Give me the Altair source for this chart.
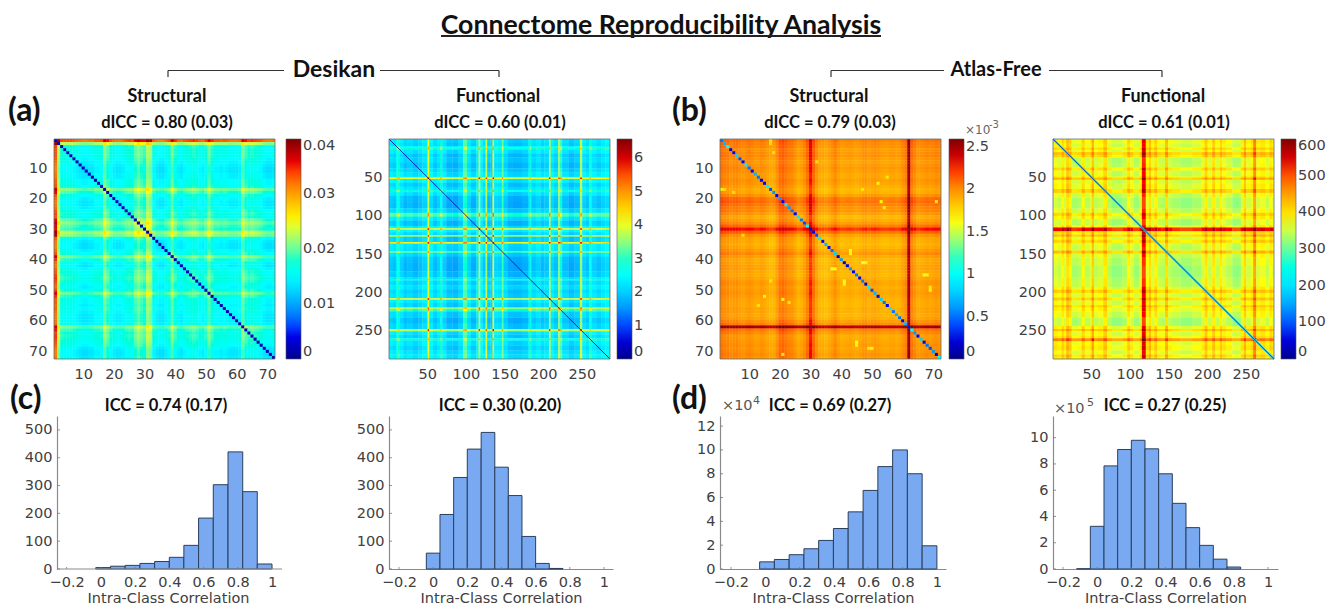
import altair as alt
import pandas as pd

# ---------- values ----------
a_prof = [25,14,9,8.5,8.5,8.5,8,7.5,7,6.5,6.5,7,7,8,8,8.5,12.5,10.5,8.5,7.5,7,7,7.5,8.5,9,8.5,11,12.5,11,10,14,13,8,7,6.5,6.5,7.5,8.5,12,9.5,7.5,7,8,8.5,9,9.5,9,8,7.5,9,11.5,9.5,8,8,7.5,8,7.5,7,7,7,7.5,12,10,9,9.5,9,8.5,8,7,6.5,6.5,7]
a_diag = 2.0

b_prof = [1.08,1.05,1.04,1.0,1.02,1.03,1.0,.98,1.0,1.02,1.0,.97,.97,1.0,.98,.95,.92,.93,1.0,1.1,1.12,1.08,1.04,1.03,.98,.92,.95,1.0,1.1,1.28,1.12,1.0,.93,.92,.9,.93,.97,1.02,.96,.92,.93,.94,.95,.93,.92,.94,.97,.98,.95,.97,.98,.96,.94,.93,.93,.95,.95,.93,.95,1.0,1.05,1.5,1.08,1.02,.96,.97,.98,1.0,.98,1.0,1.02,1.0]
b_diag = [0.5,0.7,1.0,0.2,0.3,0.8,0.4,0.3,0.9,0.5,0.3,0.7,0.5,0.3,0.3,0.9,0.4,0.6,0.3,0.6,0.3,0.9,0.6,0.5,0.3,0.9,0.5,0.4,1.0,0.2,0.3,0.4,0.9,0.3,0.7,0.3,0.5,0.8,0.2,0.6,0.2,0.2,0.6,0.3,0.5,0.3,0.5,0.2,0.9,0.4,0.7,0.3,0.8,0.5,0.3,0.9,0.5,0.7,0.5,0.3,0.7,0.3,1.0,0.6,0.3,0.8,0.3,0.5,0.4,0.6,0.3,1.0]
b_spot_i = [17,1,5,15,23,32,37,43,47,41,67,69,50,21,45,21,13,17]
b_spot_j = [2,17,18,52,54,8,43,38,41,48,45,49,69,71,68,53,55,47]
b_spot_v = [1.75,1.7,1.75,1.65,1.7,1.75,1.6,1.65,1.55,1.65,1.6,1.7,1.65,1.7,1.65,1.65,1.7,1.7]

f1_end = [5,9,11,14,19,24,31,38,43,49,50,52,57,62,66,69,74,82,90,96,101,106,113,116,118,121,125,127,131,134,136,140,146,148,153,160,172,180,182,184,190,196,201,207,209,213,219,221,224,232,240,247,250,254,259,262,268,275,280,286]
f1_val = [1.15,1.05,1.45,1.8,1.2,.95,1.05,.9,1.05,1.2,1.4,3.0,1.3,1.0,1.2,1.75,1.15,.85,.8,1.05,2.1,1.2,.9,1.3,3.0,1.4,1.1,2.7,.95,1.0,3.2,1.2,1.15,2.2,1.1,.85,.8,.9,1.2,1.75,1.05,1.2,1.0,1.1,3.0,1.25,1.05,2.6,2.0,1.05,.85,1.0,2.7,1.2,1.05,1.75,1.2,1.05,1.2,1.3]

f2_end = [6,11,14,17,21,24,31,37,41,48,50,53,58,65,70,76,90,96,100,104,112,115,120,124,127,131,135,140,145,149,154,165,180,192,196,200,206,210,216,219,224,232,243,247,250,256,259,263,268,275,280,283,286]
f2_val = [195,185,215,190,235,220,170,175,215,180,195,245,180,190,225,175,160,175,215,190,165,195,345,205,235,190,220,180,175,235,180,170,160,170,190,225,185,225,185,220,195,180,160,195,235,190,205,280,195,205,185,215,200]

h_edges = [
    [-0.03,0.056,0.142,0.228,0.314,0.4,0.485,0.571,0.657,0.743,0.829,0.914,1.0],
    [-0.04,0.04,0.12,0.2,0.281,0.361,0.44,0.52,0.6,0.68,0.76],
    [-0.033,0.053,0.139,0.225,0.311,0.397,0.483,0.57,0.656,0.742,0.828,0.914,1.0],
    [-0.12,-0.04,0.04,0.12,0.2,0.28,0.36,0.44,0.52,0.6,0.68,0.76,0.84],
]
h_vals = [
    [5,10,13,20,27,42,85,183,303,421,278,18],
    [57,196,329,431,491,366,264,117,20,2],
    [0.6,0.8,1.2,1.7,2.4,3.4,4.8,6.6,8.6,10,8,1.95],
    [0.02,3.25,7.85,9.1,9.8,9.15,7.25,5,3.15,1.8,0.75,0.15],
]
h_x_ticks = [-0.2,0,0.2,0.4,0.6,0.8,1]
h_y_ticks = [[0,100,200,300,400,500],[0,100,200,300,400,500],[0,2,4,6,8,10,12],[0,2,4,6,8,10]]
h_y_max = [550,550,12.85,11.65]
h_x_dom = [[-0.274,1.0585],[-0.2585,1.053],[-0.264,1.053],[-0.2585,1.0585]]
h_width = [228,224,226,225]
h_titles = ["ICC = 0.74 (0.17)","ICC = 0.30 (0.20)","ICC = 0.69 (0.27)","ICC = 0.27 (0.25)"]
h_title_x = [112,111,110,112]

HEAD = "Lato"
TICK = "DejaVu Sans"
INK = "#404040"
HW, HH, BH = 221, 220, 153

def jet(maxv):
    stops = [0, .125, .375, .625, .875, 1]
    return alt.Scale(domain=[s*maxv for s in stops],
                     range=["#00008f","#0000ff","#00ffff","#ffff00","#ff0000","#800000"],
                     clamp=True)

def txt(s, x, y, size=16.5, font=HEAD, weight="bold", color="#111111", align="center"):
    return alt.Chart().mark_text(font=font, fontSize=size, fontWeight=weight, color=color,
                                 align=align, baseline="middle").encode(
        x=alt.value(x), y=alt.value(y), text=alt.value(s))

def seg(x1, x2, y1, y2, w=1.2, color="#333333", opacity=1):
    return alt.Chart().mark_rule(strokeWidth=w, color=color, opacity=opacity).encode(
        x=alt.value(x1), x2=alt.value(x2), y=alt.value(y1), y2=alt.value(y2))

def cells_struct(prof, diag, spots=None):
    rows = []
    over = {}
    if spots:
        for i, j, v in zip(*spots):
            over[(i, j)] = v
            over[(j, i)] = v
    n = len(prof)
    for i in range(n):
        for j in range(n):
            v = prof[i] + prof[j]
            if (i+1, j+1) in over:
                v = over[(i+1, j+1)]
            if i == j:
                v = diag[i] if isinstance(diag, list) else diag
            rows.append((j+.5, j+1.62, i+.5, i+1.62, v))
    return pd.DataFrame(rows, columns=["a","b","c","d","v"])

def cells_runs(ends, vals):
    starts = [0] + ends[:-1]
    rows = []
    for s1, e1, p1 in zip(starts, ends, vals):
        for s2, e2, p2 in zip(starts, ends, vals):
            rows.append((s2+.5, e2+.9, s1+.5, e1+.9, p1+p2))
    return pd.DataFrame(rows, columns=["a","b","c","d","v"])

def heat(df, n, ticks, maxv, lvals, lfmt, offset, extra, diag_lines=()):
    sc = jet(maxv)
    dom = [0.5, n+.5]
    x = alt.X("a:Q", scale=alt.Scale(domain=dom, nice=False, zero=False),
              axis=alt.Axis(values=ticks, tickCount=len(ticks)+2, title=None, grid=False, domain=False, ticks=False,
                            labelFont=TICK, labelFontSize=14.5, labelColor=INK, labelPadding=8, labelOverlap=False,
                            labelFlush=False, format="d"))
    y = alt.Y("c:Q", scale=alt.Scale(domain=dom, nice=False, zero=False, reverse=True),
              axis=alt.Axis(values=ticks, tickCount=len(ticks)+2, title=None, grid=False, domain=False, ticks=False,
                            labelFont=TICK, labelFontSize=14.5, labelColor=INK, labelPadding=7, labelOverlap=False,
                            labelFlush=False, format="d"))
    rects = alt.Chart(df).mark_rect(clip=True).encode(
        x=x, x2="b:Q", y=y, y2="d:Q",
        color=alt.Color("v:Q", scale=sc, legend=alt.Legend(
            title=None, values=lvals, format=lfmt, gradientLength=HH, gradientThickness=15,
            offset=offset, labelFont=TICK, labelFontSize=14.5, labelColor=INK, labelOverlap=False,
            gradientStrokeColor="#555555", gradientStrokeWidth=0.6, labelBaseline="middle")))
    dd = pd.DataFrame({"a":[dom[0], dom[1]], "c":[dom[0], dom[1]]})
    lines = [alt.Chart(dd).mark_line(color=c, strokeWidth=w).encode(x=x, y=y) for c, w in diag_lines]
    frame = alt.Chart(pd.DataFrame({"a":[dom[0]],"b":[dom[1]],"c":[dom[0]],"d":[dom[1]]})).mark_rect(
        fillOpacity=0, stroke="#5f6f70", strokeWidth=0.8).encode(x=x, x2="b:Q", y=y, y2="d:Q")
    return alt.layer(rects, *lines, *extra, frame).properties(width=HW, height=HH)

def hist(k, extra):
    e, v = h_edges[k], h_vals[k]
    df = pd.DataFrame({"a":e[:-1], "b":e[1:], "v":v, "z":[0]*len(v)})
    w = h_width[k]
    inset = 3 if k == 0 else 0
    x = alt.X("a:Q", scale=alt.Scale(domain=h_x_dom[k], nice=False, zero=False),
              axis=alt.Axis(values=h_x_ticks, tickCount=len(h_x_ticks)+2, title="Intra-Class Correlation", grid=False, ticks=False,
                            domain=(k != 0), domainColor="#8a8a8a", domainWidth=1, labelFont=TICK,
                            labelFontSize=14.5, labelColor=INK, labelPadding=6, labelOverlap=False,
                            labelFlush=False, format="~g", titleFont=TICK, titleFontSize=14.5,
                            titleFontWeight="normal", titleColor=INK, titlePadding=3))
    y = alt.Y("v:Q", scale=alt.Scale(domain=[0, h_y_max[k]], nice=False),
              axis=alt.Axis(values=h_y_ticks[k], tickCount=len(h_y_ticks[k])+2, title=None, grid=False, ticks=False, domain=True,
                            domainColor="#8a8a8a", domainWidth=1.2, offset=-inset, labelFont=TICK,
                            labelFontSize=14.5, labelColor=INK, labelPadding=5, labelOverlap=False,
                            labelFlush=False, format="d"))
    bars = alt.Chart(df).mark_rect(fill="#78a9f1", stroke="#2b3f5c", strokeWidth=1).encode(
        x=x, x2="b:Q", y=y, y2="z:Q")
    xt = alt.Chart(pd.DataFrame({"a":h_x_ticks})).mark_rule(color="#777777", strokeWidth=0.8).encode(
        x=x, y=alt.value(BH), y2=alt.value(BH-2))
    yt = alt.Chart(pd.DataFrame({"v":h_y_ticks[k]})).mark_rule(color="#777777", strokeWidth=0.8).encode(
        y=y, x=alt.value(inset), x2=alt.value(inset+3))
    parts = [bars, xt, yt]
    if k == 0:
        parts.append(seg(inset, w, BH, BH, 1, "#8a8a8a"))
    return alt.layer(*parts, txt(h_titles[k], h_title_x[k], -10), *extra).properties(width=w, height=BH)

# ---------- panels ----------
header = [
    seg(0, 0, -131, -130, 1, "#ffffff", 0),
    txt("Connectome Reproducibility Analysis", 607, -113.5, size=26.7),
    seg(387, 827, -103, -103, 2.2, "#222222"),
    txt("Desikan", 280, -69, size=23),
    seg(114, 230, -68.5, -68.5), seg(326, 445, -68.5, -68.5),
    seg(114, 114, -68.5, -62), seg(445, 445, -68.5, -62),
    txt("Atlas-Free", 942, -69, size=20),
    seg(777, 890, -68.5, -68.5), seg(995, 1108, -68.5, -68.5),
    seg(777, 777, -68.5, -62), seg(1108, 1108, -68.5, -62),
]

p1 = heat(cells_struct([v/1000 for v in a_prof], a_diag/1000), 72, list(range(10,71,10)), 0.04,
          [0,.01,.02,.03,.04], "~g", 11,
          [txt("Structural",113,-42,size=18), txt("dICC = 0.80 (0.03)",113,-16), txt("(a)",-46,-28,size=32,align="left")] + header)
p2 = heat(cells_runs(f1_end, f1_val), 286, list(range(50,251,50)), 6.58,
          [0,1,2,3,4,5,6], "d", 7,
          [txt("Functional",109,-42,size=18), txt("dICC = 0.60 (0.01)",111,-16)],
          diag_lines=[("#0000a8",0.8)])
p3 = heat(cells_struct(b_prof, b_diag, (b_spot_i,b_spot_j,b_spot_v)), 72, list(range(10,71,10)), 2.59,
          [0,.5,1,1.5,2,2.5], "~g", 8,
          [txt("Structural",109,-42,size=18), txt("dICC = 0.79 (0.03)",110,-16), txt("(b)",-48,-28,size=32,align="left"),
           txt("×10",245,-9,size=12,font=TICK,weight="normal",color="#666666",align="left"),
           txt("-3",269,-14,size=10,font=TICK,weight="normal",color="#666666",align="left")])
p4 = heat(cells_runs(f2_end, f2_val), 286, list(range(50,251,50)), 600,
          [0,100,200,300,400,500,600], "d", 7,
          [txt("Functional",110,-42,size=18), txt("dICC = 0.61 (0.01)",111,-16)],
          diag_lines=[("#30c8e8",2), ("#00309a",0.7)])

h1 = hist(0, [txt("(c)",-44,-17,size=32,align="left")])
h2 = hist(1, [])
h3 = hist(2, [txt("(d)",-48,-17,size=32,align="left"),
              txt("×10",2,-10,size=14.5,font=TICK,weight="normal",color="#555555",align="left"),
              txt("4",33,-15,size=11,font=TICK,weight="normal",color="#555555",align="left")])
h4 = hist(3, [txt("×10",1,-7,size=14.5,font=TICK,weight="normal",color="#555555",align="left"),
              txt("5",34,-13,size=11,font=TICK,weight="normal",color="#555555",align="left")])

chart = alt.concat(p1, p2, p3, p4, h1, h2, h3, h4, columns=4,
                   spacing={"row":57,"column":107}, bounds="flush").properties(
    padding=0, background="white").configure_view(stroke=None).resolve_scale(
    x="independent", y="independent", color="independent")

chart.save("out.html", embed_options={"renderer": "svg", "actions": False})
